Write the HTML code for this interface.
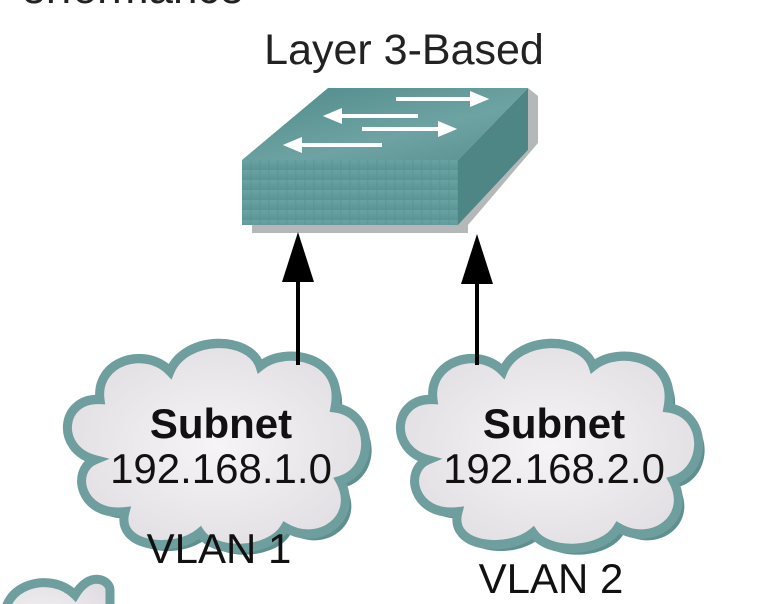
<!DOCTYPE html>
<html><head><meta charset="utf-8"><style>
html,body{margin:0;padding:0;background:#fff;}
body{width:764px;height:604px;overflow:hidden;position:relative;font-family:"Liberation Sans",Arial,sans-serif;}
svg{display:block;}
</style></head><body>
<svg width="764" height="604" viewBox="0 0 764 604" xmlns="http://www.w3.org/2000/svg">
<defs>
<linearGradient id="top" x1="0" y1="0" x2="1" y2="1">
<stop offset="0" stop-color="#4f8a8a"/><stop offset="0.6" stop-color="#6ea3a3"/><stop offset="1" stop-color="#5a9090"/>
</linearGradient>
<linearGradient id="front" x1="0" y1="0" x2="0" y2="1">
<stop offset="0" stop-color="#6aa3a3"/><stop offset="1" stop-color="#5a9494"/>
</linearGradient>
<pattern id="stripes" width="9" height="10" patternUnits="userSpaceOnUse">
<rect width="9" height="10" fill="url(#front)"/><rect x="7" width="1.5" height="10" fill="#5b9191" opacity="0.5"/>
</pattern>
<radialGradient id="cl" cx="0.5" cy="0.5" r="0.6">
<stop offset="0" stop-color="#f6f4f6"/><stop offset="1" stop-color="#e0dde2"/>
</radialGradient>
<path id="cp" d="M40,120 C0,110 5,60 45,62 C40,25 90,10 115,35 C130,0 195,0 205,30 C230,10 290,20 280,70 C320,75 320,130 285,140 C305,175 265,205 230,185 C215,210 160,212 145,190 C120,210 60,205 70,170 C25,175 15,130 40,120 Z"/>
<g id="cloud">
<use href="#cp" fill="#5e9090" transform="translate(6,6)"/>
<use href="#cp" fill="url(#cl)" stroke="#6e9e9e" stroke-width="9"/>
</g>
</defs>
<text x="-8" y="3" font-size="44" fill="#222">Performance</text>
<text x="404" y="64" font-size="43" fill="#222" text-anchor="middle">Layer 3-Based</text>
<polygon points="468,225 538,143 538,96 528,88 528,150 458,225" fill="#b4b8b8"/>
<rect x="252" y="225" width="216" height="8" fill="#b4b8b8"/>
<polygon points="242,160 328,88 528,88 458,160" fill="url(#top)"/>
<polygon points="458,160 528,88 528,150 458,225" fill="#4e8585"/>
<rect x="242" y="160" width="216" height="65" fill="url(#stripes)"/>
<g stroke="#fff" stroke-width="4" fill="#fff">
<line x1="396" y1="99" x2="472" y2="99"/><polygon points="472,94 484,99 472,104"/>
<line x1="340" y1="116" x2="418" y2="116"/><polygon points="340,111 328,116 340,121"/>
<line x1="362" y1="129" x2="440" y2="129"/><polygon points="440,124 452,129 440,134"/>
<line x1="300" y1="145" x2="382" y2="145"/><polygon points="300,140 288,145 300,150"/>
</g>
<use href="#cloud" transform="translate(55,335) scale(1,1.04)"/>
<use href="#cloud" transform="translate(388,335) scale(1,1.04)"/>
<g transform="translate(-40,560)"><path d="M40,120 C0,110 5,60 45,62 C40,25 90,10 115,35 C130,10 150,20 150,30 L150,80 Z" fill="url(#cl)" stroke="#6e9e9e" stroke-width="9"/></g>
<line x1="298" y1="270" x2="298" y2="365" stroke="#000" stroke-width="4"/>
<polygon points="298,232 282,282 314,282" fill="#000"/>
<line x1="477" y1="270" x2="477" y2="365" stroke="#000" stroke-width="4"/>
<polygon points="477,234 461,284 493,284" fill="#000"/>
<g font-size="42" fill="#111" text-anchor="middle">
<text x="221" y="438" font-weight="bold">Subnet</text>
<text x="221" y="483">192.168.1.0</text>
<text x="554" y="438" font-weight="bold">Subnet</text>
<text x="554" y="483">192.168.2.0</text>
<text x="219" y="563">VLAN 1</text>
<text x="551" y="593">VLAN 2</text>
</g>
</svg>
</body></html>
